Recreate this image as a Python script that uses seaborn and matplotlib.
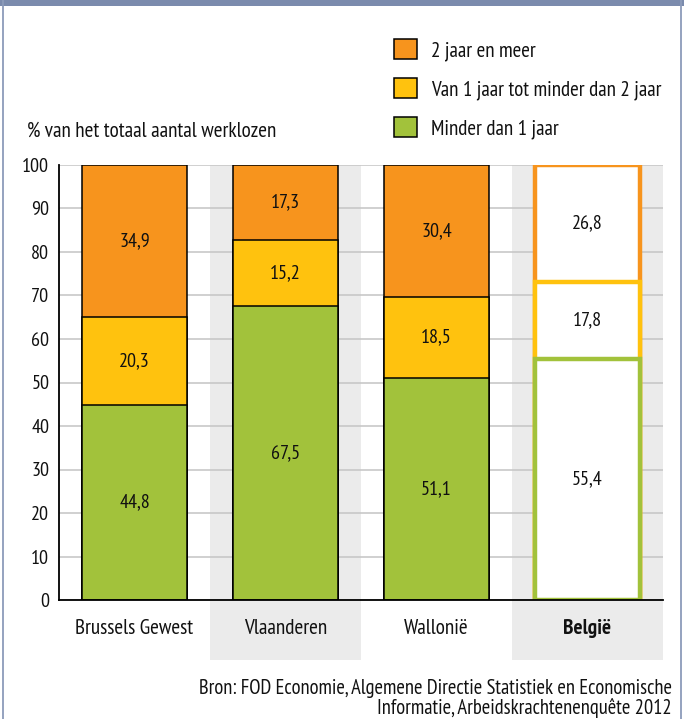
import matplotlib
matplotlib.use("Agg")
import matplotlib.pyplot as plt
from matplotlib.patches import Patch, Rectangle
from matplotlib import font_manager
import seaborn as sns

# Gegevens
regio = ["Brussels Gewest", "Vlaanderen", "Wallonië", "België"]
minder_1_jaar = [44.8, 67.5, 51.1, 55.4]
van_1_tot_2_jaar = [20.3, 15.2, 18.5, 17.8]
twee_jaar_meer = [34.9, 17.3, 30.4, 26.8]
reeksen = ["2 jaar en meer", "Van 1 jaar tot minder dan 2 jaar", "Minder dan 1 jaar"]
kleuren = ["#F7941D", "#FFC20E", "#A2C23B"]

sns.set_theme(style="white")
beschikbaar = {f.name for f in font_manager.fontManager.ttflist}
voorkeur = ["PT Sans Narrow", "Roboto Condensed", "Fira Sans Condensed", "Liberation Sans"]
fam = [f for f in voorkeur if f in beschikbaar][:1]
plt.rcParams["font.family"] = fam + ["DejaVu Sans"]

fig = plt.figure(figsize=(6.84, 7.19), dpi=100)
ax = fig.add_axes([59 / 684, 1 - 600 / 719, 604 / 684, 435 / 719])

# Cumulatieve hoogtes, van boven naar onder getekend
totaal = [a + b + c for a, b, c in zip(minder_1_jaar, van_1_tot_2_jaar, twee_jaar_meer)]
midden = [a + b for a, b in zip(minder_1_jaar, van_1_tot_2_jaar)]
lagen = [totaal, midden, minder_1_jaar]

for hoogte, kleur in zip(lagen, kleuren):
    sns.barplot(x=regio, y=hoogte, color=kleur, saturation=1, width=0.69,
                edgecolor="black", linewidth=1.1, ax=ax, zorder=3)
    # België: wit met gekleurde rand
    laatste = ax.patches[-1]
    laatste.set_facecolor("white")
    laatste.set_edgecolor(kleur)
    laatste.set_linewidth(3.2)

# Labels in de segmenten
for i in range(len(regio)):
    onder = 0
    for waarde in [minder_1_jaar[i], van_1_tot_2_jaar[i], twee_jaar_meer[i]]:
        ax.text(i, onder + waarde / 2, f"{waarde:.1f}".replace(".", ","),
                ha="center", va="center", fontsize=14.5, color="#111111", zorder=5)
        onder += waarde

# Grijze banden achter Vlaanderen en België
for i in [1, 3]:
    ax.add_patch(Rectangle((i - 0.5, -13.8), 1, 113.8, facecolor="#EBEBEB",
                           edgecolor="none", zorder=0.2, clip_on=False))

ax.set_xlim(-0.5, 3.5)
ax.set_ylim(0, 100)
ax.set_yticks(range(0, 101, 10))
ax.yaxis.grid(True, color="#C8C8C8", linewidth=1.2)
ax.set_axisbelow(True)
for s in ["top", "right"]:
    ax.spines[s].set_visible(False)
for s in ["left", "bottom"]:
    ax.spines[s].set_color("black")
    ax.spines[s].set_linewidth(1.3)
    ax.spines[s].set_zorder(4)
ax.tick_params(axis="y", length=0, pad=7, labelsize=14.5, labelcolor="#111111")
ax.tick_params(axis="x", length=0, pad=14, labelsize=15.3, labelcolor="#111111")
ax.get_xticklabels()[3].set_fontweight("bold")
ax.set_xlabel("")
ax.set_ylabel("")

fig.text(27 / 684, 1 - 131 / 719, "% van het totaal aantal werklozen",
         fontsize=15.2, va="center", ha="left", color="#111111")

handles = [Patch(facecolor=k, edgecolor="black", linewidth=1.1) for k in kleuren]
fig.legend(handles, reeksen, loc="upper left", bbox_to_anchor=(394 / 684, 1 - 39 / 719),
           frameon=False, fontsize=15.1, handlelength=1.1, handleheight=1.1,
           handletextpad=0.65, labelspacing=0.82, borderpad=0, borderaxespad=0,
           labelcolor="#111111")

fig.text(672 / 684, 1 - 689 / 719,
         "Bron: FOD Economie, Algemene Directie Statistiek en Economische",
         fontsize=14.8, ha="right", va="center", color="#111111")
fig.text(672 / 684, 1 - 708 / 719, "Informatie, Arbeidskrachtenenquête 2012",
         fontsize=14.8, ha="right", va="center", color="#111111")

# Kader
fig.patches.append(Rectangle((0, 1 - 6 / 719), 1, 6 / 719, transform=fig.transFigure,
                             facecolor="#7B8BAD", edgecolor="none"))
for xpos in [3 / 684, 681 / 684]:
    fig.lines.append(plt.Line2D([xpos, xpos], [0, 1], transform=fig.transFigure,
                                color="#8C9BBA", linewidth=1.3))

fig.savefig("out.png", dpi=100)
